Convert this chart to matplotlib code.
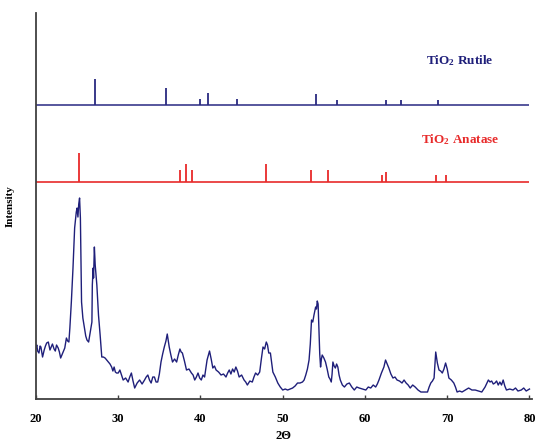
import numpy as np
import matplotlib
matplotlib.use("Agg")
import matplotlib.pyplot as plt

plt.rcParams['mathtext.fontset'] = 'custom'
plt.rcParams['mathtext.rm'] = 'Liberation Serif:bold'
plt.rcParams['mathtext.bf'] = 'Liberation Serif:bold'
plt.rcParams['mathtext.it'] = 'Liberation Serif:bold'

# measured XRD pattern (2theta, intensity a.u.)
two_theta = [20.0, 20.1, 20.2, 20.36, 20.5, 20.6, 20.8, 21.0, 21.15, 21.3, 21.5, 21.7, 21.85,
             22.0, 22.2, 22.35, 22.5, 22.7, 22.85, 23.0, 23.15, 23.3, 23.5, 23.7, 23.85, 24.0,
             24.12, 24.3, 24.5, 24.7, 24.9, 25.0, 25.1, 25.2, 25.3, 25.4, 25.54, 25.7, 25.9,
             26.05, 26.2, 26.4, 26.6, 26.8, 26.85, 26.95, 27.0, 27.1, 27.2, 27.4, 27.6, 27.8,
             28.0, 28.2, 28.4, 28.6, 28.8, 29.0, 29.2, 29.35, 29.5, 29.65, 29.8, 30.0, 30.2,
             30.4, 30.6, 30.9, 31.2, 31.4, 31.6, 31.8, 32.0, 32.3, 32.6, 32.9, 33.2, 33.4,
             33.6, 33.8, 34.0, 34.2, 34.4, 34.6, 34.8, 35.0, 35.2, 35.4, 35.6, 35.8, 35.96,
             36.2, 36.4, 36.6, 36.85, 37.1, 37.3, 37.5, 37.65, 37.8, 38.05, 38.3, 38.6, 38.9,
             39.1, 39.3, 39.5, 39.7, 39.9, 40.1, 40.3, 40.5, 40.8, 41.1, 41.3, 41.5, 41.7,
             41.9, 42.2, 42.5, 42.8, 43.1, 43.3, 43.5, 43.7, 43.9, 44.1, 44.3, 44.5, 44.7,
             45.0, 45.3, 45.5, 45.7, 46.0, 46.3, 46.5, 46.7, 46.95, 47.2, 47.4, 47.6, 47.8,
             48.0, 48.15, 48.3, 48.5, 48.8, 49.1, 49.4, 49.7, 50.0, 50.3, 50.6, 50.9, 51.2,
             51.5, 51.8, 52.1, 52.4, 52.6, 52.8, 53.0, 53.2, 53.35, 53.5, 53.65, 53.8, 53.9,
             54.0, 54.1, 54.2, 54.3, 54.4, 54.5, 54.6, 54.7, 54.8, 55.0, 55.2, 55.4, 55.6,
             55.75, 55.9, 56.0, 56.1, 56.25, 56.4, 56.55, 56.7, 56.85, 57.0, 57.25, 57.5,
             57.8, 58.1, 58.4, 58.7, 59.0, 59.3, 59.7, 60.1, 60.4, 60.7, 61.0, 61.3, 61.5,
             61.7, 62.0, 62.3, 62.5, 62.7, 62.9, 63.15, 63.4, 63.65, 63.9, 64.2, 64.5, 64.75,
             65.0, 65.25, 65.5, 65.8, 66.1, 66.45, 66.8, 67.2, 67.6, 67.8, 68.0, 68.2, 68.4,
             68.5, 68.6, 68.8, 69.0, 69.2, 69.4, 69.6, 69.8, 70.0, 70.2, 70.5, 70.8, 71.0,
             71.2, 71.5, 71.8, 72.2, 72.6, 73.0, 73.4, 73.8, 74.2, 74.6, 75.0, 75.2, 75.4,
             75.6, 75.8, 76.0, 76.2, 76.4, 76.6, 76.8, 77.0, 77.2, 77.6, 78.0, 78.3, 78.6,
             79.0, 79.3, 79.6, 79.8, 80.0]
counts = [51, 54, 48, 46, 53, 52, 42, 49, 53, 56, 57, 49, 52,
          55, 50, 48, 54, 51, 47, 41, 44, 47, 51, 61, 58, 57,
          71, 97, 131, 171, 187, 191, 182, 195, 201, 181, 97, 81, 71,
          63, 59, 57, 67, 77, 114, 131, 121, 152, 134, 114, 84, 64,
          42, 42, 41, 39, 37, 35, 32, 28, 32, 27, 26, 26, 29,
          24, 19, 21, 17, 22, 26, 18, 11, 16, 19, 15, 19, 22,
          24, 19, 16, 22, 22, 17, 17, 25, 37, 45, 52, 58, 65,
          52, 44, 37, 40, 37, 44, 50, 47, 46, 38, 29, 30, 26,
          24, 19, 22, 26, 21, 19, 24, 22, 39, 48, 40, 31, 33,
          29, 27, 24, 25, 22, 26, 29, 25, 30, 27, 32, 28, 22,
          24, 19, 17, 14, 18, 17, 22, 26, 24, 27, 40, 52, 50,
          57, 54, 46, 46, 27, 22, 16, 12, 9, 10, 9, 10, 11,
          13, 16, 16, 17, 19, 24, 30, 39, 55, 79, 77, 84, 88,
          92, 90, 98, 95, 69, 45, 32, 40, 44, 41, 37, 30, 22,
          20, 17, 25, 37, 33, 31, 35, 32, 24, 19, 14, 12,
          15, 16, 12, 9, 12, 11, 10, 9, 12, 11, 14, 12, 15,
          19, 26, 32, 39, 35, 31, 25, 21, 22, 19, 18, 16, 19,
          16, 14, 11, 14, 12, 9, 7, 7, 7, 12, 16, 18, 21,
          34, 47, 36, 29, 28, 26, 30, 36, 30, 21, 19, 16, 12,
          7, 8, 7, 9, 11, 9, 9, 8, 7, 12, 19, 17, 18,
          15, 16, 18, 14, 17, 14, 19, 13, 9, 10, 9, 11, 8,
          9, 11, 8, 9, 10]

# reference stick patterns
rutile_pos = [27.2, 35.8, 40.0, 40.9, 44.5, 54.1, 56.6, 62.6, 64.4, 68.9]
rutile_int = [26, 17, 6, 12, 6, 11, 5, 5, 5, 5]
anatase_pos = [25.2, 37.5, 38.2, 39.0, 48.0, 53.45, 55.5, 62.1, 62.6, 68.6, 69.9]
anatase_int = [29, 12, 18, 12, 18, 12, 12, 7, 10, 7, 7]

rutile_offset = 294
anatase_offset = 217

navy = '#1f1f7a'
red = '#e82a2a'
serif = 'Liberation Serif'

fig = plt.figure(figsize=(5.37, 4.41), dpi=100)
ax = fig.add_axes([0.067, 0.0952, 0.9236, 0.8753])

ax.plot(two_theta, counts, color=navy, lw=1.0)

ax.hlines(rutile_offset, 20, 80, color='#3a3a8c', lw=1.2)
ax.vlines(rutile_pos, rutile_offset, rutile_offset + np.array(rutile_int), color='#2a2a80', lw=1.3)
ax.hlines(anatase_offset, 20, 80, color=red, lw=1.2)
ax.vlines(anatase_pos, anatase_offset, anatase_offset + np.array(anatase_int), color=red, lw=1.3)

ax.text(67.4, 338, 'TiO$_\\mathbf{2}$ Rutile', color=navy, fontsize=9.5, fontweight='bold',
        family=serif, va='center', ha='left')
ax.text(66.8, 259, 'TiO$_\\mathbf{2}$ Anatase', color=red, fontsize=9.5, fontweight='bold',
        family=serif, va='center', ha='left')

ax.set_xlim(20, 80.3)
ax.set_ylim(0, 386)
ax.set_xticks([20, 30, 40, 50, 60, 70, 80])
ax.set_yticks([])
ax.tick_params(axis='x', direction='in', length=3, width=1, color='#404040', pad=10)
for lbl in ax.get_xticklabels():
    lbl.set_fontfamily(serif)
    lbl.set_fontweight('bold')
    lbl.set_fontsize(9)

ax.spines['top'].set_visible(False)
ax.spines['right'].set_visible(False)
for s in ['left', 'bottom']:
    ax.spines[s].set_color('#404040')
    ax.spines[s].set_linewidth(1.3)

ax.set_xlabel('2\u0398', fontsize=9, fontweight='bold', family=serif, labelpad=4)
ax.set_ylabel('Intensity', fontsize=8, fontweight='bold', family=serif, labelpad=8)
ax.yaxis.set_label_coords(-0.042, 0.5)

fig.savefig('out.png', dpi=100)
